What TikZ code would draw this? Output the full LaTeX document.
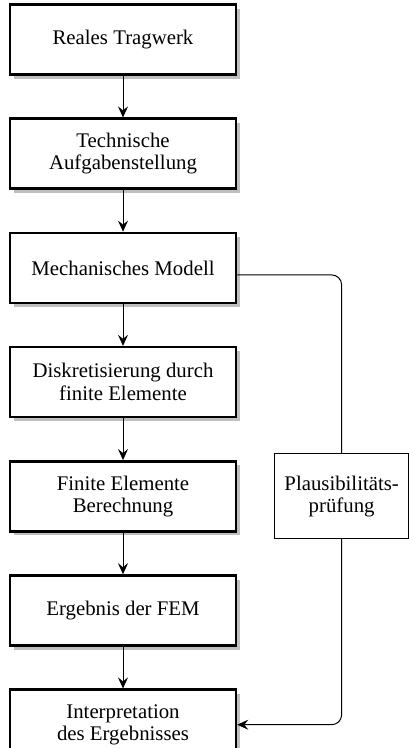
\documentclass[tikz,border=0pt]{standalone}
\usepackage{fontspec}
\setmainfont{Liberation Serif}
\usetikzlibrary{positioning,arrows.meta,shadows}
\begin{document}
\begin{tikzpicture}[x=1pt,y=1pt,
  node distance=41.7pt,
  font=\fontsize{20.8}{22.5}\selectfont,
  stage/.style={draw,line width=2.5pt,fill=white,minimum width=226pt,minimum height=70pt,
    align=center,inner sep=2pt,
    drop shadow={shadow xshift=4pt,shadow yshift=-4pt,fill=black!25,opacity=1}},
  check/.style={draw,line width=0.8pt,minimum width=134pt,minimum height=85pt,align=center},
  flow/.style={-{Stealth[length=11pt,width=10pt,inset=4pt]},line width=1pt}]
  \useasboundingbox (0,0) rectangle (409,-748);
  \node[stage] (real) at (123,-39.5) {Reales Tragwerk};
  \node[stage,below=of real] (task) {Technische\\Aufgabenstellung};
  \node[stage,below=of task] (mech) {Mechanisches Modell};
  \node[stage,below=of mech] (disc) {Diskretisierung durch\\finite Elemente};
  \node[stage,below=of disc] (calc) {Finite Elemente\\Berechnung};
  \node[stage,below=of calc] (res) {Ergebnis der FEM};
  \node[stage,below=of res] (interp) {Interpretation\\des Ergebnisses};
  \node[check,right=37pt of calc] (plaus) {Plausibilitäts-\\prüfung};
  \foreach \a/\b in {real/task,task/mech,mech/disc,disc/calc,calc/res,res/interp}
    \draw[flow] (\a) -- (\b);
  \draw[line width=1pt,rounded corners=10pt] ([yshift=-7pt]mech.east) -| (plaus.north);
  \draw[flow,rounded corners=10pt] (plaus.south) |- (interp.east);
\end{tikzpicture}
\end{document}
